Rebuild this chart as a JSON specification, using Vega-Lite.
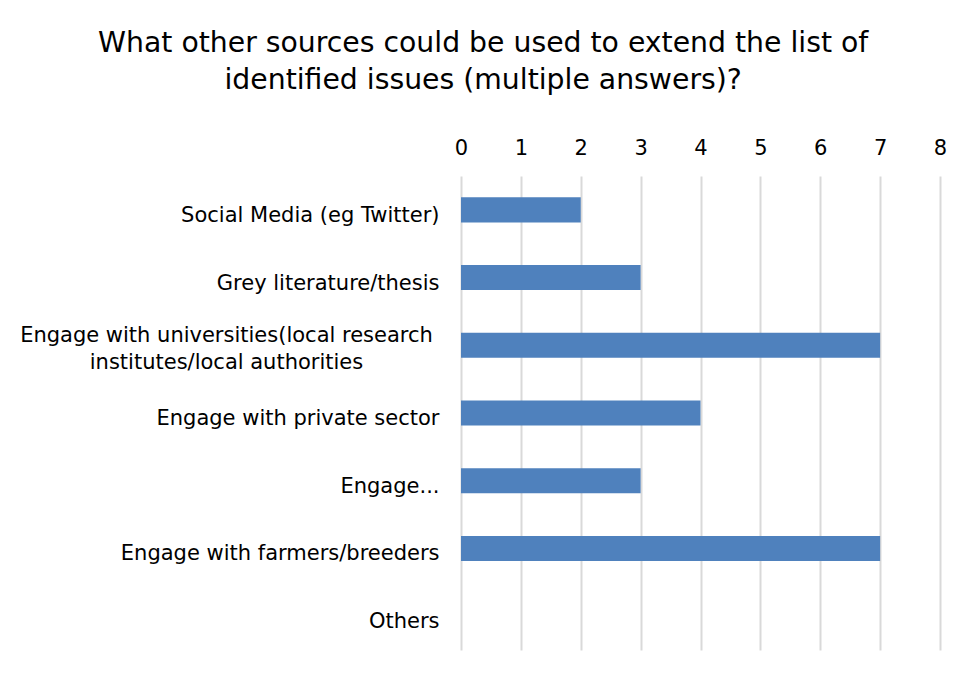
{
  "$schema": "https://vega.github.io/schema/vega-lite/v6.json",
  "width": 479,
  "height": 474,
  "autosize": {"type": "none"},
  "padding": {"left": 461, "top": 176, "right": 15, "bottom": 25},
  "background": "white",
  "title": {
    "text": ["What other sources could be used to extend the list of", "identified issues (multiple answers)?"],
    "font": "DejaVu Sans",
    "fontSize": 28.3,
    "fontWeight": "normal",
    "color": "#000000",
    "anchor": "middle",
    "frame": "bounds",
    "lineHeight": 37,
    "offset": 42
  },
  "data": {
    "values": [
      {"source": "Social Media (eg Twitter)", "count": 2},
      {"source": "Grey literature/thesis", "count": 3},
      {"source": "Engage with universities(local research institutes/local authorities", "count": 7},
      {"source": "Engage with private sector", "count": 4},
      {"source": "Engage...", "count": 3},
      {"source": "Engage with farmers/breeders", "count": 7},
      {"source": "Others", "count": 0}
    ]
  },
  "mark": {"type": "bar", "color": "#4F81BD"},
  "encoding": {
    "y": {
      "field": "source",
      "type": "nominal",
      "sort": null,
      "scale": {"paddingInner": 0.63, "paddingOuter": 0.315},
      "axis": {
        "title": null,
        "domain": false,
        "ticks": false,
        "labelPadding": {"condition": {"test": "datum.value == 'Engage with universities(local research institutes/local authorities'", "value": 235}, "value": 22},
        "labelAlign": {"condition": {"test": "datum.value == 'Engage with universities(local research institutes/local authorities'", "value": "center"}, "value": "right"},
        "labelOffset": {"condition": {"test": "datum.value == 'Engage with universities(local research institutes/local authorities'", "value": -9}, "value": 6},
        "labelFont": "DejaVu Sans",
        "labelFontSize": 21,
        "labelColor": "#000000",
        "labelLimit": 500,
        "labelLineHeight": 27,
        "labelExpr": "datum.value == 'Engage with universities(local research institutes/local authorities' ? ['Engage with universities(local research', 'institutes/local authorities'] : datum.value"
      }
    },
    "x": {
      "field": "count",
      "type": "quantitative",
      "scale": {"domain": [0, 8], "nice": false},
      "axis": {
        "orient": "top",
        "title": null,
        "domain": false,
        "ticks": false,
        "values": [0, 1, 2, 3, 4, 5, 6, 7, 8],
        "labelOverlap": false,
        "grid": true,
        "gridColor": "#D9D9D9",
        "gridWidth": 2,
        "labelPadding": 18,
        "labelFont": "DejaVu Sans",
        "labelFontSize": 21,
        "labelColor": "#000000",
        "labelFlush": false
      }
    }
  },
  "config": {"view": {"stroke": null}}
}
